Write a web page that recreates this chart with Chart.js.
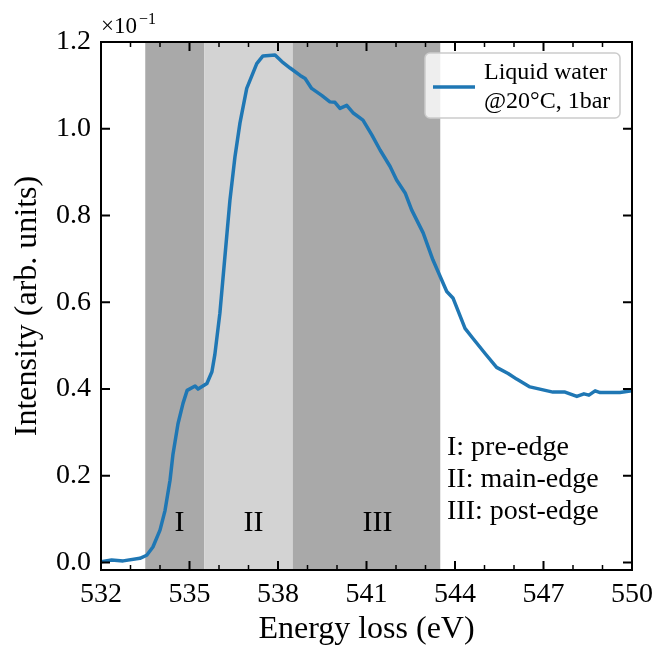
<!DOCTYPE html>
<html>
<head>
<meta charset="utf-8">
<script src="https://cdn.jsdelivr.net/npm/chart.js@4"></script>
<style>
  body { margin: 0; background: #fff; }
  #wrap { width: 656px; height: 646px; }
</style>
</head>
<body>
<div id="wrap"><canvas id="myChart" width="656" height="646"></canvas></div>
<script>
// energy loss (eV) and intensity (in units of 1e-1)
const energy = [532.0, 532.36, 532.75, 533.32, 533.55, 533.76, 534.0, 534.17, 534.34, 534.44,
  534.61, 534.78, 534.92, 535.19, 535.29, 535.59, 535.76, 535.86, 536.03, 536.2,
  536.37, 536.54, 536.71, 536.94, 537.28, 537.49, 537.9, 538.13, 538.41, 538.75,
  538.92, 539.14, 539.48, 539.76, 539.93, 540.1, 540.33, 540.54, 540.88, 541.18,
  541.46, 541.8, 542.02, 542.31, 542.53, 542.92, 543.25, 543.72, 543.93, 544.34,
  544.57, 545.02, 545.41, 545.8, 546.09, 546.54, 547.32, 547.73, 548.13, 548.37,
  548.54, 548.75, 548.92, 549.59, 550.0];
const intensity = [0.002, 0.006, 0.004, 0.010, 0.017, 0.036, 0.075, 0.12, 0.19, 0.25,
  0.32, 0.367, 0.397, 0.407, 0.40, 0.413, 0.44, 0.48, 0.575, 0.705,
  0.835, 0.935, 1.013, 1.093, 1.15, 1.168, 1.17, 1.155, 1.14, 1.123,
  1.116, 1.093, 1.077, 1.062, 1.061, 1.047, 1.054, 1.037, 1.02, 0.986,
  0.951, 0.913, 0.882, 0.852, 0.813, 0.76, 0.698, 0.625, 0.61, 0.54,
  0.52, 0.482, 0.45, 0.436, 0.423, 0.405, 0.393, 0.393, 0.383, 0.389,
  0.386, 0.396, 0.392, 0.392, 0.396];

// shaded regions: [start, end, colour]
const regionStart = [533.5, 535.5, 538.5];
const regionEnd = [535.5, 538.5, 543.5];
const regionColor = ['#a9a9a9', '#d3d3d3', '#a9a9a9'];
const regionLabel = ['I', 'II', 'III'];
const regionLabelX = [534.66, 537.17, 541.37];
const regionLabelY = 0.091;

const xTicks = [532, 535, 538, 541, 544, 547, 550];
const yTicks = [0.0, 0.2, 0.4, 0.6, 0.8, 1.0, 1.2];
const noteLines = ['I: pre-edge', 'II: main-edge', 'III: post-edge'];
const legendLines = ['Liquid water', '@20°C, 1bar'];

const SERIF = '"Liberation Serif", "DejaVu Serif", serif';
const BLUE = '#1f77b4';

const decor = {
  id: 'decor',
  beforeDatasetsDraw(chart) {
    const {ctx, chartArea: a, scales: {x}} = chart;
    ctx.save();
    for (let i = 0; i < regionStart.length; i++) {
      const x0 = x.getPixelForValue(regionStart[i]);
      const x1 = x.getPixelForValue(regionEnd[i]);
      ctx.fillStyle = regionColor[i];
      ctx.fillRect(x0, a.top, x1 - x0, a.bottom - a.top);
    }
    ctx.restore();
  },
  afterDatasetsDraw(chart) {
    const {ctx, chartArea: a, scales: {x, y}} = chart;
    ctx.save();
    // region labels
    ctx.fillStyle = '#000';
    ctx.font = '30px ' + SERIF;
    ctx.textAlign = 'center';
    ctx.textBaseline = 'middle';
    regionLabel.forEach((t, i) => {
      ctx.fillText(t, x.getPixelForValue(regionLabelX[i]), y.getPixelForValue(regionLabelY));
    });
    // note block
    ctx.font = '28px ' + SERIF;
    ctx.textAlign = 'left';
    noteLines.forEach((t, i) => ctx.fillText(t, 447, 448 + i * 32));

    // frame
    ctx.strokeStyle = '#000';
    ctx.lineWidth = 2;
    ctx.strokeRect(a.left, a.top, a.right - a.left, a.bottom - a.top);
    // x ticks (major every 3, minor every 1), inward, top and bottom
    for (let v = 532; v <= 550; v++) {
      const px = x.getPixelForValue(v);
      const major = (v - 532) % 3 === 0;
      const len = major ? 9 : 5;
      ctx.lineWidth = major ? 2 : 1.5;
      ctx.beginPath();
      ctx.moveTo(px, a.bottom); ctx.lineTo(px, a.bottom - len);
      ctx.moveTo(px, a.top); ctx.lineTo(px, a.top + len);
      ctx.stroke();
    }
    // y ticks left and right
    ctx.lineWidth = 2;
    yTicks.forEach(v => {
      const py = y.getPixelForValue(v);
      ctx.beginPath();
      ctx.moveTo(a.left, py); ctx.lineTo(a.left + 9, py);
      ctx.moveTo(a.right, py); ctx.lineTo(a.right - 9, py);
      ctx.stroke();
    });

    // multiplier
    ctx.textBaseline = 'alphabetic';
    ctx.font = '23px ' + SERIF;
    ctx.fillText('×10', 101, 33);
    ctx.font = '16px ' + SERIF;
    ctx.fillText('−1', 139, 24);

    // legend
    const lx = 425, ly = 53, lw = 195, lh = 65, r = 5;
    ctx.beginPath();
    ctx.roundRect(lx, ly, lw, lh, r);
    ctx.fillStyle = 'rgba(255,255,255,0.8)';
    ctx.fill();
    ctx.strokeStyle = '#cccccc';
    ctx.lineWidth = 1.5;
    ctx.stroke();
    ctx.strokeStyle = BLUE;
    ctx.lineWidth = 3.5;
    ctx.beginPath();
    ctx.moveTo(433, 87); ctx.lineTo(475, 87);
    ctx.stroke();
    ctx.fillStyle = '#000';
    ctx.font = '24px ' + SERIF;
    ctx.textBaseline = 'middle';
    legendLines.forEach((t, i) => ctx.fillText(t, 484, 73 + i * 29));
    ctx.restore();
  }
};

const ctx = document.getElementById('myChart');

const myChart = new Chart(ctx, {
  type: 'line',
  data: {
    datasets: [{
      label: legendLines.join(' '),
      data: energy.map((e, i) => ({x: e, y: intensity[i]})),
      borderColor: BLUE,
      borderWidth: 3.5,
      borderJoinStyle: 'round',
      borderCapStyle: 'round',
      pointRadius: 0,
      tension: 0,
      fill: false
    }]
  },
  options: {
    responsive: false,
    animation: false,
    layout: { padding: { top: 42, right: 24, left: 0, bottom: 0 } },
    plugins: { legend: { display: false }, tooltip: { enabled: false } },
    scales: {
      x: {
        type: 'linear',
        min: 532, max: 550,
        afterFit(s) { s.height = 76; s.paddingLeft = 0; s.paddingRight = 0; },
        afterBuildTicks(s) { s.ticks = xTicks.map(v => ({value: v})); },
        grid: { display: false, drawTicks: false },
        border: { display: false },
        ticks: { color: '#000', font: { family: SERIF, size: 28 }, padding: 8, maxRotation: 0 },
        title: { display: true, text: 'Energy loss (eV)', color: '#000',
          font: { family: SERIF, size: 32, lineHeight: 1 }, padding: { top: 0, bottom: 0 } }
      },
      y: {
        min: -0.017, max: 1.2,
        afterFit(s) { s.width = 101; s.paddingTop = 0; s.paddingBottom = 0; },
        afterBuildTicks(s) { s.ticks = yTicks.map(v => ({value: v})); },
        grid: { display: false, drawTicks: false },
        border: { display: false },
        ticks: { color: '#000', font: { family: SERIF, size: 28 }, padding: 10,
          callback: v => v.toFixed(1) },
        title: { display: true, text: 'Intensity (arb. units)', color: '#000',
          font: { family: SERIF, size: 32 }, padding: { top: 8, bottom: 0 } }
      }
    }
  },
  plugins: [decor]
});
</script>
</body>
</html>
